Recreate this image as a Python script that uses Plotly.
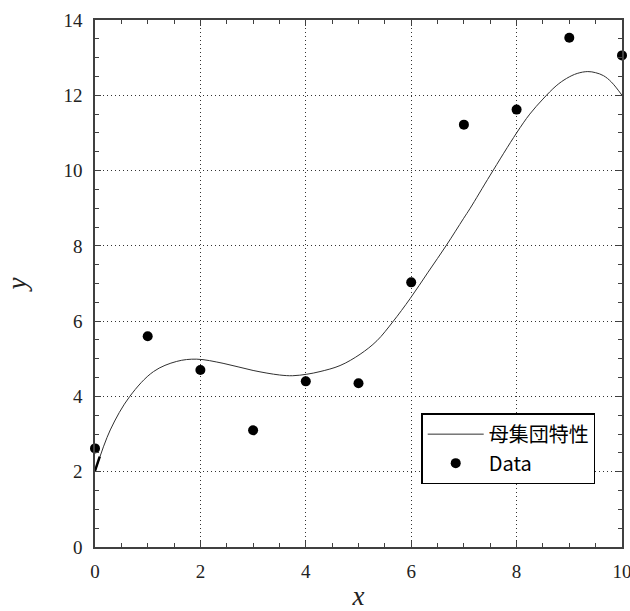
import plotly.graph_objects as go

# Data points
data_x = [0, 1, 2, 3, 4, 5, 6, 7, 8, 9, 10]
data_y = [2.62, 5.6, 4.7, 3.1, 4.4, 4.35, 7.03, 11.22, 11.62, 13.53, 13.06]

# Population characteristic curve
curve_x = [0.0, 0.29, 0.66, 1.11, 1.55, 1.93, 2.43, 3.0, 3.5, 3.75, 4.02, 4.27, 4.65, 5.03,
           5.35, 5.65, 5.98, 6.32, 6.67, 6.99, 7.12, 7.5, 8.0, 8.25, 8.5, 8.75, 8.95, 9.15,
           9.35, 9.5, 9.65, 9.8, 10.0]
curve_y = [2.0, 3.11, 4.0, 4.66, 4.93, 4.99, 4.88, 4.69, 4.57, 4.55, 4.59, 4.66, 4.82, 5.12,
           5.48, 5.98, 6.6, 7.3, 8.02, 8.72, 9.0, 9.88, 11.0, 11.5, 11.9, 12.25, 12.45, 12.58,
           12.63, 12.6, 12.52, 12.35, 12.0]

# short thick start segment
seg_x = [0.0, 0.09]
seg_y = [2.02, 2.40]

x_ticks = [0, 2, 4, 6, 8, 10]
y_ticks = [0, 2, 4, 6, 8, 10, 12, 14]

serif = "Liberation Serif"
legend_font = "Noto Sans CJK JP"

fig = go.Figure()
fig.add_trace(go.Scatter(x=curve_x, y=curve_y, mode="lines", name="母集団特性",
                         line=dict(color="#303030", width=1, shape="spline", smoothing=1.0)))
fig.add_trace(go.Scatter(x=seg_x, y=seg_y, mode="lines", showlegend=False,
                         line=dict(color="#000000", width=2.5)))
fig.add_trace(go.Scatter(x=data_x, y=data_y, mode="markers", name="Data",
                         marker=dict(color="black", size=10), cliponaxis=False))

axis_common = dict(
    showline=True, linecolor="#404040", linewidth=1.5, mirror="ticks",
    ticks="inside", ticklen=6, tickcolor="#404040", tickwidth=1,
    showgrid=True, gridcolor="#333333", griddash="1px,3px", gridwidth=1,
    zeroline=False, automargin=False, ticklabeloverflow="allow",
    tickfont=dict(family=serif, size=19, color="#222222"),
    minor=dict(ticks="inside", ticklen=4, dtick=0.5, tickcolor="#404040", showgrid=False),
)

fig.update_layout(
    width=630, height=611,
    margin=dict(l=95, r=8, t=20, b=64),
    plot_bgcolor="white", paper_bgcolor="white",
    xaxis=dict(range=[0, 10], tickvals=x_ticks, **axis_common, ticklabelstandoff=6,
               title=dict(text="<i>x</i>", font=dict(family=serif, size=27, color="#222222"), standoff=17)),
    yaxis=dict(range=[0, 14], tickvals=y_ticks, **axis_common, ticklabelstandoff=7,
               title=dict(text="<i>y</i>", font=dict(family=serif, size=27, color="#222222"), standoff=29)),
    legend=dict(x=0.619, y=0.254, xanchor="left", yanchor="top",
                bordercolor="black", borderwidth=1.5, bgcolor="white",
                font=dict(family=legend_font, size=20, color="black"),
                itemwidth=56),
    showlegend=True,
)

fig.write_html("out.html")
